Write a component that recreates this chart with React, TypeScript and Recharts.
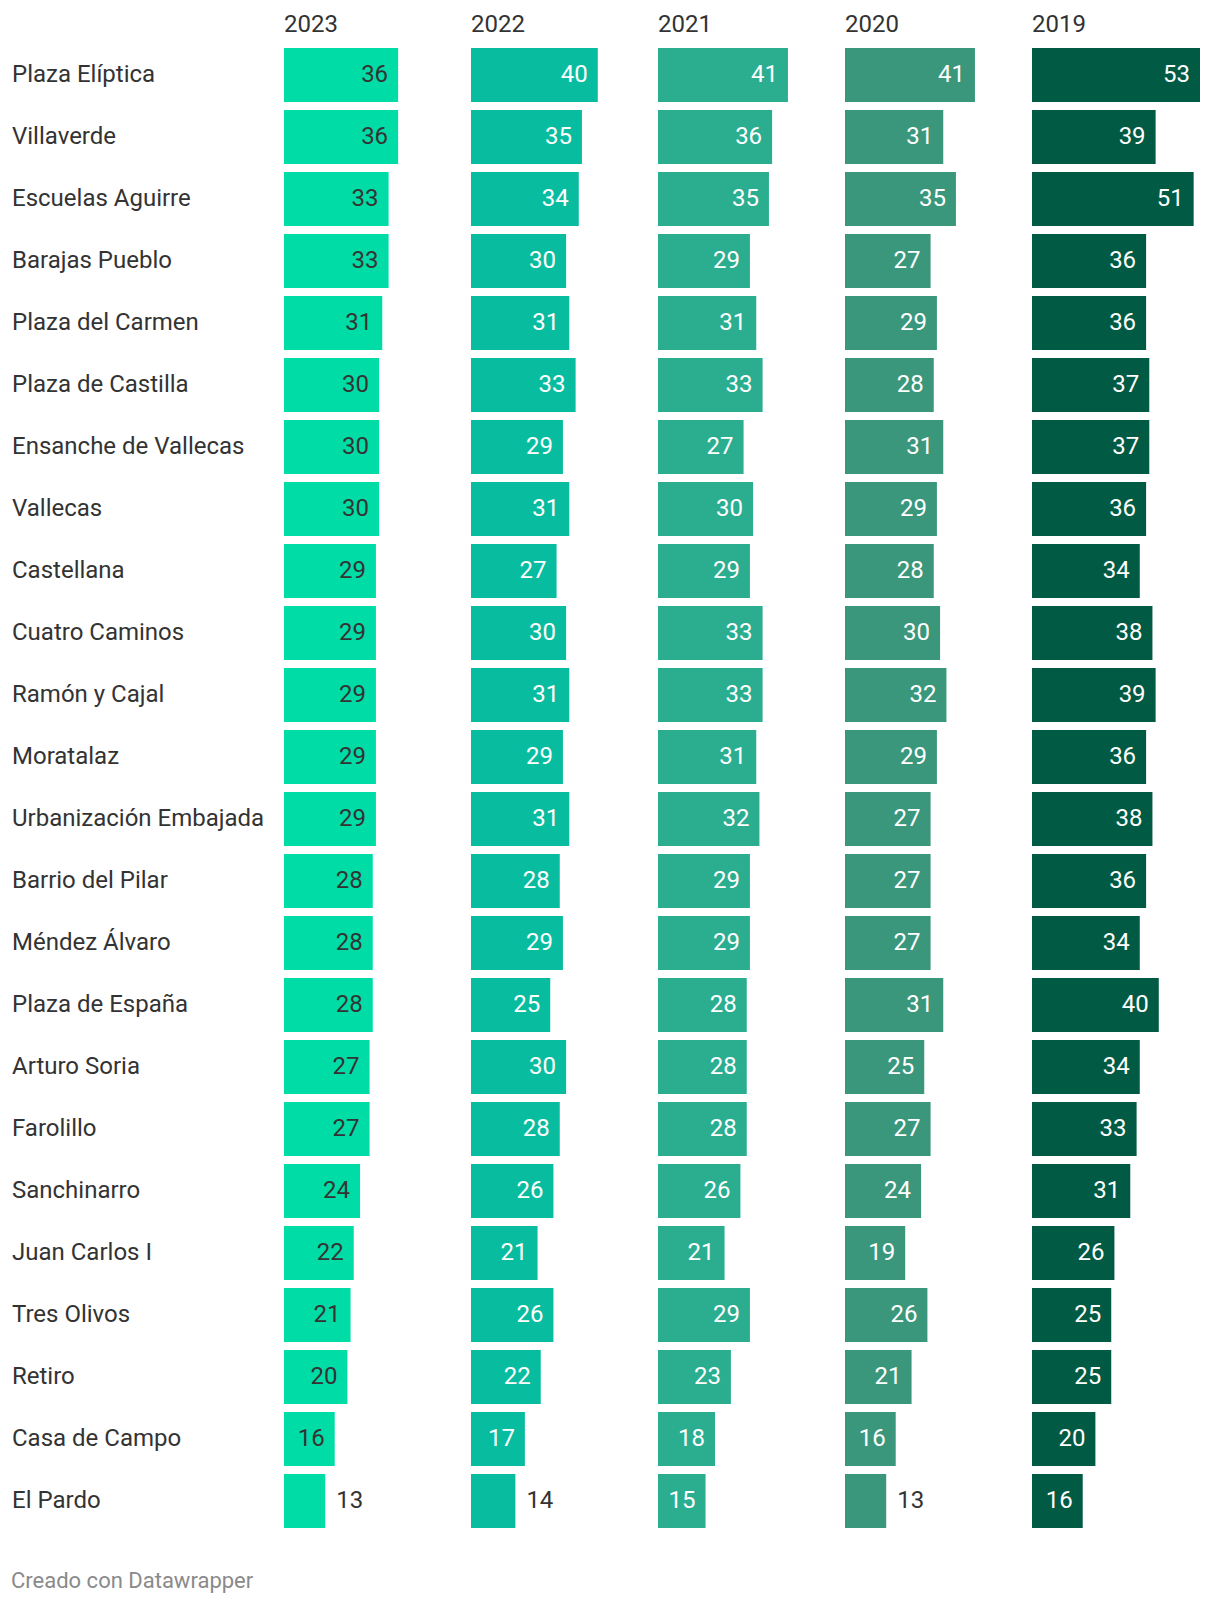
import React from "react";
import { BarChart, Bar, XAxis, YAxis, LabelList } from "recharts";

// Estaciones (ordenadas por el valor de 2023)
const stations = [
  "Plaza Elíptica",
  "Villaverde",
  "Escuelas Aguirre",
  "Barajas Pueblo",
  "Plaza del Carmen",
  "Plaza de Castilla",
  "Ensanche de Vallecas",
  "Vallecas",
  "Castellana",
  "Cuatro Caminos",
  "Ramón y Cajal",
  "Moratalaz",
  "Urbanización Embajada",
  "Barrio del Pilar",
  "Méndez Álvaro",
  "Plaza de España",
  "Arturo Soria",
  "Farolillo",
  "Sanchinarro",
  "Juan Carlos I",
  "Tres Olivos",
  "Retiro",
  "Casa de Campo",
  "El Pardo",
];

const years = ["2023", "2022", "2021", "2020", "2019"];

const v2023 = [36, 36, 33, 33, 31, 30, 30, 30, 29, 29, 29, 29, 29, 28, 28, 28, 27, 27, 24, 22, 21, 20, 16, 13];
const v2022 = [40, 35, 34, 30, 31, 33, 29, 31, 27, 30, 31, 29, 31, 28, 29, 25, 30, 28, 26, 21, 26, 22, 17, 14];
const v2021 = [41, 36, 35, 29, 31, 33, 27, 30, 29, 33, 33, 31, 32, 29, 29, 28, 28, 28, 26, 21, 29, 23, 18, 15];
const v2020 = [41, 31, 35, 27, 29, 28, 31, 29, 28, 30, 32, 29, 27, 27, 27, 31, 25, 27, 24, 19, 26, 21, 16, 13];
const v2019 = [53, 39, 51, 36, 36, 37, 37, 36, 34, 38, 39, 36, 38, 36, 34, 40, 34, 33, 31, 26, 25, 25, 20, 16];

const seriesByYear: Record<string, number[]> = {
  "2023": v2023,
  "2022": v2022,
  "2021": v2021,
  "2020": v2020,
  "2019": v2019,
};

const barColors = ["#00dca6", "#08bd9f", "#2aae8f", "#3b977c", "#015a43"];
const valueColors = ["#333333", "#ffffff", "#ffffff", "#ffffff", "#ffffff"];

const FONT = "Roboto, 'Noto Sans', sans-serif";
const FS = 24;
const DY = "0.29em";
const LABEL_W = 284; // ancho reservado para los nombres
const COL_W = 187; // separación entre columnas
const PLOT_W = 168; // ancho de la escala 0..53
const TOP = 44;
const CHART_H = 1532;
const DOMAIN_MAX = 53;

const rows = stations.map((name, i) => {
  const row: Record<string, string | number> = { name };
  years.forEach((y) => {
    row[y] = seriesByYear[y][i];
  });
  return row;
});

function valueLabel(colIndex: number) {
  return (props: any) => {
    const { x, y, width, height, value } = props;
    const cy = Number(y) + Number(height) / 2;
    const fits = Number(width) >= 46;
    if (fits) {
      return (
        <text
          x={Number(x) + Number(width) - 10}
          y={cy}
          dy={DY}
          textAnchor="end"
          fill={valueColors[colIndex]}
          fontSize={FS}
          fontFamily={FONT}
        >
          {value}
        </text>
      );
    }
    return (
      <text
        x={Number(x) + Number(width) + 11}
        y={cy}
        dy={DY}
        textAnchor="start"
        fill="#333333"
        fontSize={FS}
        fontFamily={FONT}
      >
        {value}
      </text>
    );
  };
}

function StationTick(props: any) {
  const { y, payload } = props;
  return (
    <text x={12} y={y} dy={DY} textAnchor="start" fill="#333333" fontSize={FS} fontFamily={FONT}>
      {payload.value}
    </text>
  );
}

export default function App() {
  return (
    <div
      style={{
        position: "absolute",
        left: 0,
        top: 0,
        width: 1220,
        height: 1604,
        background: "#ffffff",
        fontFamily: FONT,
        overflow: "hidden",
      }}
    >
      {years.map((year, i) => {
        const first = i === 0;
        const left = first ? 0 : LABEL_W + i * COL_W;
        const width = first ? LABEL_W + COL_W : COL_W;
        return (
          <React.Fragment key={year}>
            <div
              style={{
                position: "absolute",
                left: LABEL_W + i * COL_W,
                top: 11.8,
                fontSize: FS,
                lineHeight: `${FS}px`,
                color: "#333333",
              }}
            >
              {year}
            </div>
            <div style={{ position: "absolute", left, top: 0 }}>
              <BarChart
                width={width}
                height={CHART_H}
                data={rows}
                layout="vertical"
                margin={{ top: TOP, right: width - (first ? LABEL_W : 0) - PLOT_W, bottom: 0, left: 0 }}
                style={{ overflow: "visible" }}
              >
                <XAxis type="number" domain={[0, DOMAIN_MAX]} hide />
                <YAxis
                  type="category"
                  dataKey="name"
                  hide={!first}
                  width={first ? LABEL_W : 0}
                  axisLine={false}
                  tickLine={false}
                  interval={0}
                  tick={<StationTick />}
                />
                <Bar dataKey={year} fill={barColors[i]} barSize={54} isAnimationActive={false}>
                  <LabelList dataKey={year} content={valueLabel(i)} />
                </Bar>
              </BarChart>
            </div>
          </React.Fragment>
        );
      })}
      <div
        style={{
          position: "absolute",
          left: 11,
          top: 1569.5,
          fontSize: 22,
          lineHeight: "22px",
          color: "#8a8a8a",
        }}
      >
        Creado con Datawrapper
      </div>
    </div>
  );
}
